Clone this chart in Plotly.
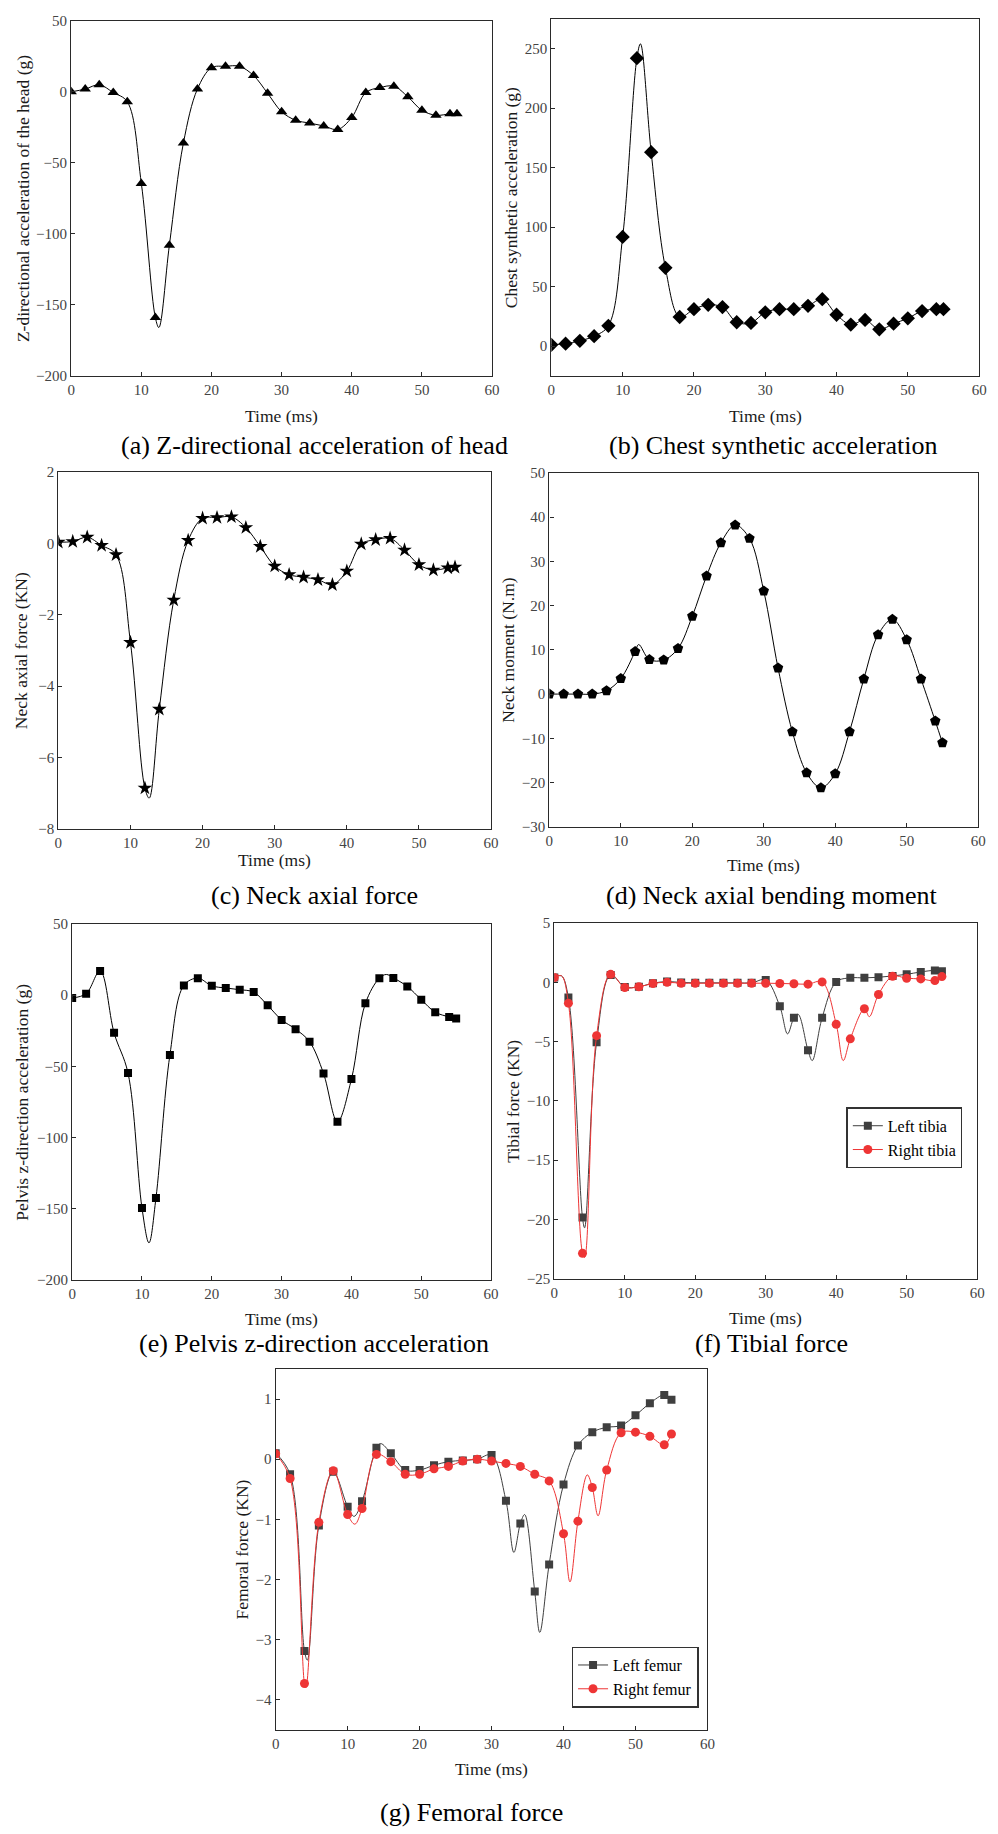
import plotly.graph_objects as go

W, H = 998, 1834

# ---------------- data ----------------
t_ms = [0, 2, 4, 6, 8, 10, 12, 14, 16, 18, 20, 22, 24, 26, 28, 30, 32, 34, 36, 38,
        40, 42, 44, 46, 48, 50, 52, 54, 55]

head_acc = [0, 2, 5, -0.5, -7, -64.5, -159, -108, -36, 2, 17, 18, 18, 11.5, -1, -14, -20, -22,
            -24, -26.5, -18, -0.5, 3, 4, -3.5, -13, -16.5, -15.5, -15.5]
head_curve_t = [12.5]
head_curve_v = [-166]

chest_acc = [1, 2, 4.4, 8.3, 17, 91.7, 242, 163, 65.7, 24.4, 31, 34.6, 32.7, 20, 19.4, 28.3,
             31, 31, 33.8, 39.4, 26.3, 18, 21.9, 14, 18.8, 23.3, 29.4, 31, 31]
chest_curve_t = [12.5]
chest_curve_v = [254]

neck_force = [0.03, 0.05, 0.17, -0.06, -0.32, -2.78, -6.86, -4.65, -1.59, 0.08, 0.70, 0.72,
              0.74, 0.44, -0.09, -0.64, -0.88, -0.95, -1.02, -1.16, -0.78, -0.02, 0.10, 0.14,
              -0.19, -0.60, -0.75, -0.69, -0.67]
neck_force_curve_t = [12.6]
neck_force_curve_v = [-7.14]

neck_moment = [0, 0, 0, 0, 0.75, 3.5, 9.6, 7.8, 7.7, 10.3, 17.6, 26.7, 34.2, 38.2, 35.2, 23.3,
               5.9, -8.5, -17.8, -21.2, -18, -8.5, 3.4, 13.4, 16.9, 12.3, 3.4, -6.1, -11]
neck_moment_curve_t = [12.5]
neck_moment_curve_v = [11.2]

pelvis_acc = [-2, 1, 17, -26.5, -54.8, -149.6, -142.6, -42, 6.8, 11.9, 6.5, 5, 3.8, 2.1, -7.2,
              -17.4, -23.9, -32.7, -55, -89, -59, -5.8, 11.9, 12.1, 6.1, -3.2, -12, -15.3, -16.5]
pelvis_curve_t = [11.0, 45]
pelvis_curve_v = [-174, 14.5]

left_tibia = [0.4, -1.28, -19.84, -5.05, 0.62, -0.4, -0.38, -0.08, 0.06, -0.02, -0.05, -0.05,
              -0.05, -0.05, -0.05, 0.2, -2.03, -3.0, -5.74, -3.0, 0.03, 0.37, 0.37, 0.42, 0.53,
              0.67, 0.87, 1.0, 0.93]
left_tibia_curve_t = [1, 4.3, 33.1, 34.6, 36.6]
left_tibia_curve_v = [0.55, -20.7, -4.35, -2.7, -6.6]

right_tibia = [0.4, -1.76, -22.85, -4.5, 0.67, -0.44, -0.38, -0.1, 0, -0.08, -0.08, -0.08, -0.08,
               -0.08, -0.08, -0.08, -0.1, -0.13, -0.16, 0.03, -3.54, -4.77, -2.23, -1.03, 0.5,
               0.34, 0.28, 0.14, 0.48]
right_tibia_curve_t = [1, 4.3, 41, 44.7]
right_tibia_curve_v = [0.55, -23.2, -6.6, -2.9]

left_femur = [0.1, -0.25, -3.19, -1.1, -0.21, -0.79, -0.7, 0.19, 0.1, -0.18, -0.18, -0.1, -0.04,
              -0.02, 0, 0.07, -0.69, -1.07, -2.2, -1.75, -0.42, 0.23, 0.45, 0.53, 0.56, 0.73,
              0.93, 1.07, 0.99]
left_femur_curve_t = [4.4, 10.9, 14.6, 33.1, 34.6, 36.7]
left_femur_curve_v = [-3.34, -0.95, 0.26, -1.55, -0.92, -2.88]

right_femur = [0.09, -0.32, -3.73, -1.05, -0.19, -0.92, -0.82, 0.08, -0.04, -0.25, -0.25, -0.16,
               -0.12, -0.03, 0, -0.03, -0.07, -0.12, -0.25, -0.36, -1.24, -1.03, -0.47, -0.18,
               0.44, 0.45, 0.38, 0.24, 0.42]
right_femur_curve_t = [4.2, 11, 40.9, 43.3, 44.8]
right_femur_curve_v = [-3.8, -1.08, -2.04, -0.26, -0.94]

x_title = "Time (ms)"
y_titles = ["Z-directional acceleration of the head (g)", "Chest synthetic acceleration (g)",
            "Neck axial force (KN)", "Neck moment (N.m)", "Pelvis z-direction acceleration (g)",
            "Tibial force (KN)", "Femoral force (KN)"]
captions = ["(a) Z-directional acceleration of head", "(b) Chest synthetic acceleration",
            "(c) Neck axial force", "(d) Neck axial bending moment",
            "(e) Pelvis z-direction acceleration", "(f) Tibial force", "(g) Femoral force"]

# ---------------- layout geometry (pixels) ----------------
# (left, right, top, bottom)
boxes = [(68, 494, 13, 371), (554, 987, 11, 371), (55, 493, 468, 828), (552, 986, 469, 826),
         (69, 493, 924, 1283), (557, 985, 923, 1282), (275, 712, 1373, 1737)]
y_ranges = [(-200, 50), (-25, 275), (-8, 2), (-30, 50), (-200, 50), (-25, 5), (-4.5, 1.5)]
y_dticks = [50, 50, 2, 10, 50, 5, 1]
ytitle_x = [20, 514, 18, 510, 18, 515, 241]
xtitle_y = [412, 412, 860, 865, 1323, 1322, 1777]
caption_pos = [(314, 441), (778, 441), (314, 895), (777, 895), (314, 1347), (777, 1347), (473, 1820)]

FONT = "Liberation Serif, Times New Roman, serif"
GRAY = "#3f3f3f"
RED = "#ee3535"


def px(x):
    return x / W


def py(y):
    return 1 - y / H


fig = go.Figure()


def add_series(i, vals, ct, cv, symbol, size, color, name=None, legend="legend"):
    ax = "" if i == 0 else str(i + 1)
    pts = sorted([(t, v, size) for t, v in zip(t_ms, vals)] + [(t, v, 0) for t, v in zip(ct, cv)])
    fig.add_trace(go.Scatter(
        x=[p[0] for p in pts], y=[p[1] for p in pts], mode="lines+markers",
        line=dict(color=color, width=1, shape="spline", smoothing=1),
        marker=dict(symbol=symbol, size=[p[2] for p in pts], color=color, opacity=1,
                    line=dict(width=0)),
        xaxis="x" + ax, yaxis="y" + ax, showlegend=False, hoverinfo="x+y"))
    if name:
        # legend entry (no data drawn)
        fig.add_trace(go.Scatter(
            x=[None], y=[None], mode="lines+markers", name=name, legend=legend,
            line=dict(color=color, width=1), marker=dict(symbol=symbol, size=size, color=color),
            xaxis="x" + ax, yaxis="y" + ax, showlegend=True))


add_series(0, head_acc, head_curve_t, head_curve_v, "triangle-up", 10, "black")
add_series(1, chest_acc, chest_curve_t, chest_curve_v, "diamond", 11, "black")
add_series(2, neck_force, neck_force_curve_t, neck_force_curve_v, "star", 11, "black")
add_series(3, neck_moment, neck_moment_curve_t, neck_moment_curve_v, "pentagon", 11, "black")
add_series(4, pelvis_acc, pelvis_curve_t, pelvis_curve_v, "square", 8, "black")
add_series(5, left_tibia, left_tibia_curve_t, left_tibia_curve_v, "square", 8, GRAY, "Left tibia", "legend")
add_series(5, right_tibia, right_tibia_curve_t, right_tibia_curve_v, "circle", 9, RED, "Right tibia", "legend")
add_series(6, left_femur, left_femur_curve_t, left_femur_curve_v, "square", 8, GRAY, "Left femur", "legend2")
add_series(6, right_femur, right_femur_curve_t, right_femur_curve_v, "circle", 9, RED, "Right femur", "legend2")

layout = dict(width=W, height=H, margin=dict(l=0, r=0, t=0, b=0), plot_bgcolor="white",
              paper_bgcolor="white", font=dict(family=FONT, color="black"))

annotations = []
for i, (l, r, t, b) in enumerate(boxes):
    ax = "" if i == 0 else str(i + 1)
    common = dict(showline=True, mirror=True, linecolor="#2a2a2a", linewidth=1.3, ticks="inside",
                  ticklen=4, tickcolor="#2a2a2a", showgrid=False, zeroline=False,
                  tickfont=dict(family=FONT, size=15, color="#444"))
    layout["xaxis" + ax] = dict(domain=[px(l), px(r)], range=[0, 60], dtick=10, tick0=0,
                                anchor="y" + ax, **common)
    layout["yaxis" + ax] = dict(domain=[py(b), py(t)], range=list(y_ranges[i]), dtick=y_dticks[i],
                                tick0=0, anchor="x" + ax, **common)
    annotations.append(dict(text=x_title, x=px((l + r) / 2), y=py(xtitle_y[i]), xref="paper", yref="paper",
                            xanchor="center", yanchor="middle", showarrow=False,
                            font=dict(family=FONT, size=17.5, color="#1a1a1a")))
    annotations.append(dict(text=y_titles[i], x=px(ytitle_x[i]), y=py((t + b) / 2), xref="paper",
                            yref="paper", xanchor="center", yanchor="middle", textangle=-90,
                            showarrow=False, font=dict(family=FONT, size=17.5, color="#1a1a1a")))
    cx, cy = caption_pos[i]
    annotations.append(dict(text=captions[i], x=px(cx), y=py(cy), xref="paper", yref="paper",
                            xanchor="center", yanchor="middle", showarrow=False,
                            font=dict(family=FONT, size=26, color="black")))

layout["annotations"] = annotations
leg_common = dict(bgcolor="white", bordercolor="#333", borderwidth=1.5,
                  font=dict(family=FONT, size=16, color="black"), xanchor="right", yanchor="top",
                  tracegroupgap=0, itemwidth=30)
layout["legend"] = dict(x=px(970), y=py(1109), **leg_common)
layout["legend2"] = dict(x=px(703), y=py(1653), **leg_common)

fig.update_layout(**layout)
fig.write_html("out.html")
